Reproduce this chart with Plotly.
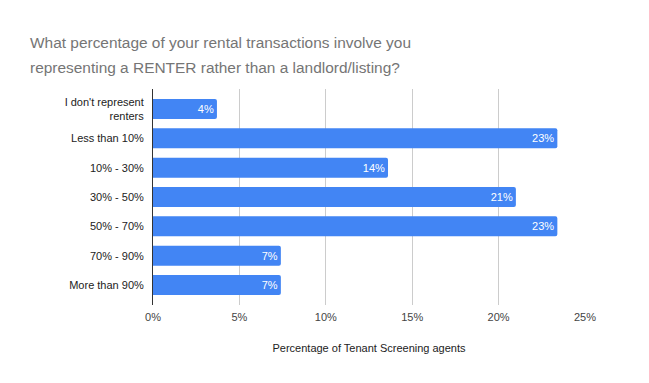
import plotly.graph_objects as go

categories = ["I don't represent<br>renters", "Less than 10%", "10% - 30%", "30% - 50%",
              "50% - 70%", "70% - 90%", "More than 90%"]
values = [0.037, 0.234, 0.136, 0.210, 0.234, 0.074, 0.074]
tick_vals = [0, 0.05, 0.10, 0.15, 0.20, 0.25]
tick_text = ["0%", "5%", "10%", "15%", "20%", "25%"]
title_lines = ["What percentage of your rental transactions involve you",
               "representing a RENTER rather than a landlord/listing?"]

FONT = "Arial, Liberation Sans, sans-serif"

fig = go.Figure(go.Bar(
    x=values, y=categories, orientation="h",
    marker=dict(color="#4285F4", line=dict(width=0), cornerradius=2),
    texttemplate="%{x:.0%}", textposition="inside", insidetextanchor="end",
    textfont=dict(color="white", size=11, family=FONT),
    hoverinfo="skip",
))

# page body has an 8px default margin, so the figure is drawn at (8, 8)
W, H = 641, 375
L, R, T, B = 144.5, 64, 81, 78
pw, ph = W - L - R, H - T - B

def px_x(x):
    return (x - L) / pw

def px_y(y):
    return (H - B - y) / ph

annotations = []
for i, line in enumerate(title_lines):
    annotations.append(dict(
        text=line, xref="paper", yref="paper", x=px_x(19.5), y=px_y(34.8 + 25 * i),
        xanchor="left", yanchor="middle", showarrow=False,
        font=dict(size=15.45, color="#757575", family=FONT),
    ))

fig.update_layout(
    width=W, height=H,
    margin=dict(l=L, r=R, t=T, b=B),
    paper_bgcolor="white", plot_bgcolor="white",
    font=dict(family=FONT, color="#222222"),
    annotations=annotations,
    bargap=0.32,
    showlegend=False,
    uniformtext=dict(minsize=11, mode="show"),
)
fig.update_xaxes(
    range=[0, 0.25], tickvals=tick_vals, ticktext=tick_text, automargin=False,
    showgrid=True, gridcolor="#cccccc", gridwidth=1, zeroline=False,
    tickfont=dict(size=11, color="#444444"), ticks="", ticklabelstandoff=4,
    title=dict(text="Percentage of Tenant Screening agents", font=dict(size=11, color="#222222"), standoff=22),
)
fig.update_yaxes(
    categoryorder="array", categoryarray=categories[::-1], automargin=False,
    range=[-0.68, 6.68],
    showline=True, linecolor="#333333", linewidth=1,
    tickfont=dict(size=11, color="#222222"), ticks="", ticklabelstandoff=6,
)
fig.write_html("out.html")
